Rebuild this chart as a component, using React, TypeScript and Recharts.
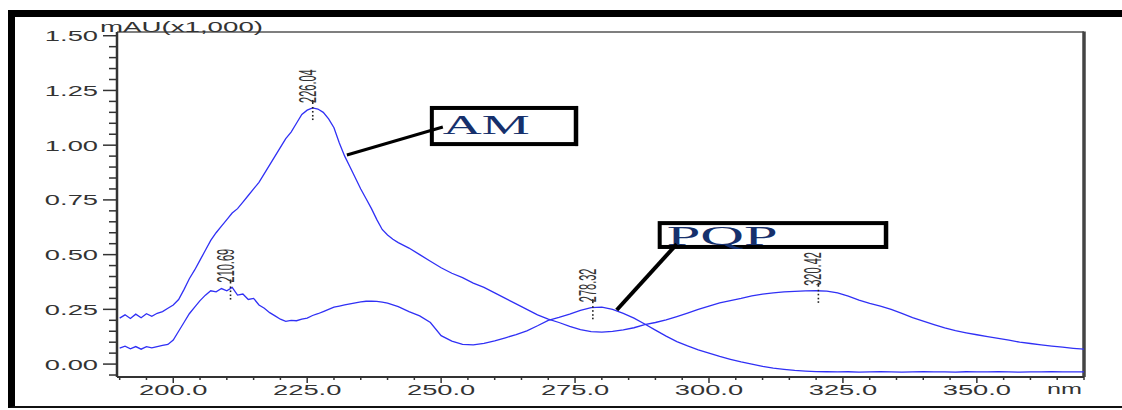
import React from 'react';
import { LineChart, Line, XAxis, YAxis, ReferenceDot, ReferenceLine, ReferenceArea, Label } from 'recharts';

// Wavelength (nm) sampling shared by both spectra
const wavelengths = [
  190, 191, 192, 193, 194, 195, 196, 197, 198, 199,
  200, 201, 202, 203, 204, 205, 206, 207, 208, 209,
  210, 211, 212, 213, 214, 215, 216, 217, 218, 219,
  220, 221, 222, 223, 224, 225, 226, 227, 228, 229,
  230, 231, 232, 233, 234, 235, 236, 237, 238, 239,
  240, 241, 242, 244, 246, 248, 250, 252, 254, 256,
  258, 260, 262, 264, 266, 268, 270, 272, 274, 276,
  278, 280, 282, 284, 286, 288, 290, 292, 294, 296,
  298, 300, 302, 304, 306, 308, 310, 312, 314, 316,
  318, 320, 322, 324, 326, 328, 330, 332, 334, 336,
  338, 340, 342, 344, 346, 348, 350, 352, 354, 356,
  358, 360, 362, 364, 366, 368, 370,
];

// AM spectrum, mAU x1,000
const amAbsorbance = [
  0.21, 0.225, 0.208, 0.228, 0.212, 0.23, 0.218, 0.232, 0.24, 0.255,
  0.27, 0.295, 0.34, 0.39, 0.43, 0.475, 0.52, 0.565, 0.6, 0.63,
  0.66, 0.69, 0.71, 0.74, 0.77, 0.8, 0.83, 0.87, 0.91, 0.95,
  0.99, 1.03, 1.06, 1.1, 1.14, 1.16, 1.17, 1.165, 1.15, 1.12,
  1.08, 1.01, 0.95, 0.9, 0.85, 0.8, 0.755, 0.71, 0.66, 0.615,
  0.59, 0.57, 0.555, 0.53, 0.5, 0.47, 0.44, 0.415, 0.395, 0.37,
  0.35, 0.325, 0.3, 0.275, 0.25, 0.225, 0.205, 0.19, 0.172, 0.157,
  0.148, 0.146, 0.149, 0.156, 0.166, 0.18, 0.19, 0.202, 0.217, 0.233,
  0.25, 0.265, 0.28, 0.29, 0.3, 0.312, 0.32, 0.325, 0.33, 0.332,
  0.334, 0.335, 0.333, 0.325, 0.31, 0.292, 0.277, 0.265, 0.25, 0.232,
  0.212, 0.196, 0.18, 0.165, 0.153, 0.143, 0.134, 0.125, 0.117, 0.109,
  0.1, 0.094, 0.088, 0.082, 0.077, 0.072, 0.068,
];

// PQP spectrum, mAU x1,000
const pqpAbsorbance = [
  0.073, 0.082, 0.07, 0.08, 0.068, 0.08, 0.074, 0.08, 0.085, 0.09,
  0.11, 0.15, 0.19, 0.23, 0.26, 0.29, 0.315, 0.335, 0.33, 0.345,
  0.335, 0.35, 0.315, 0.32, 0.295, 0.3, 0.27, 0.255, 0.235, 0.22,
  0.205, 0.195, 0.2, 0.198, 0.205, 0.21, 0.222, 0.23, 0.24, 0.25,
  0.26, 0.265, 0.27, 0.275, 0.28, 0.284, 0.287, 0.288, 0.286, 0.283,
  0.278, 0.27, 0.262, 0.24, 0.22, 0.19, 0.13, 0.105, 0.09, 0.088,
  0.095, 0.106, 0.12, 0.135, 0.152, 0.175, 0.2, 0.213, 0.228, 0.245,
  0.258, 0.26, 0.25, 0.232, 0.21, 0.183, 0.155, 0.128, 0.103, 0.083,
  0.065, 0.05, 0.035, 0.022, 0.01, 0.0, -0.01, -0.018, -0.024, -0.029,
  -0.032, -0.034, -0.035, -0.036, -0.035, -0.037, -0.036, -0.035, -0.036, -0.037,
  -0.036, -0.035, -0.036, -0.036, -0.037, -0.035, -0.036, -0.036, -0.035, -0.036,
  -0.037, -0.036, -0.036, -0.035, -0.036, -0.036, -0.036,
];

const xTicks = [
  190, 195, 200, 205, 210, 215, 220, 225, 230, 235, 240, 245, 250, 255, 260, 265, 270, 275,
  280, 285, 290, 295, 300, 305, 310, 315, 320, 325, 330, 335, 340, 345, 350, 355, 360, 365, 370,
];
const yTicks = [
  -0.05, 0, 0.05, 0.1, 0.15, 0.2, 0.25, 0.3, 0.35, 0.4, 0.45, 0.5, 0.55, 0.6, 0.65, 0.7,
  0.75, 0.8, 0.85, 0.9, 0.95, 1.0, 1.05, 1.1, 1.15, 1.2, 1.25, 1.3, 1.35, 1.4, 1.45, 1.5,
];

const peakWavelengths = [210.69, 226.04, 278.32, 320.42];
const peakHeights = [0.35, 1.17, 0.26, 0.335];

const calloutNames = ['AM', 'PQP'];

// annotation geometry (data units)
const X_DOMAIN: [number, number] = [189.5, 370];
const Y_DOMAIN: [number, number] = [-0.059, 1.517];
const calloutBoxes = [
  { x1: 248.27, x2: 275.13, y1: 1.005, y2: 1.17, dx: 11, dy: 26, len: 87, size: 28 },
  { x1: 290.8, x2: 333.0, y1: 0.535, y2: 0.644, dx: 7, dy: 22, len: 111, size: 27 },
];
const calloutLines = [
  [{ x: 250.32, y: 1.083 }, { x: 232.41, y: 0.955 }],
  [{ x: 293.98, y: 0.548 }, { x: 282.78, y: 0.247 }],
];

const SANS = "'Liberation Sans', Arial, sans-serif";
const SERIF = "'Liberation Serif', 'Times New Roman', serif";
const TXT = '#333';
const STRETCH = 1.95;

const amData = wavelengths.map((w, i) => ({ x: w, y: amAbsorbance[i] }));
const pqpData = wavelengths.map((w, i) => ({ x: w, y: pqpAbsorbance[i] }));

function YTick(props: any) {
  const { x, y, payload } = props;
  const v = payload.value as number;
  const major = Math.abs(v * 4 - Math.round(v * 4)) < 1e-6;
  return (
    <g>
      <line x1={major ? x : x + 6} x2={x + 14} y1={y} y2={y} stroke="#333" strokeWidth={1.5} />
      {major && (
        <text
          transform={`translate(${x - 5},${y + 5.5}) scale(${STRETCH},1)`}
          textAnchor="end"
          fontSize={14}
          fontFamily={SANS}
          fill={TXT}
        >
          {v.toFixed(2)}
        </text>
      )}
    </g>
  );
}

function XTick(props: any) {
  const { x, y, payload } = props;
  const v = payload.value as number;
  const major = v % 25 === 0;
  const axisY = y - 6;
  return (
    <g>
      <line x1={x} x2={x} y1={axisY} y2={axisY + (major ? 6 : 3)} stroke="#333" strokeWidth={1.5} />
      {major && (
        <text
          transform={`translate(${x},${axisY + 18}) scale(${STRETCH},1)`}
          textAnchor="middle"
          fontSize={14}
          fontFamily={SANS}
          fill={TXT}
        >
          {v.toFixed(1)}
        </text>
      )}
    </g>
  );
}

function NmLabel(props: any) {
  const vb = props.viewBox || {};
  return (
    <text
      x={vb.x + vb.width - 37}
      y={vb.y + 17}
      fontSize={14}
      fontFamily={SANS}
      fill={TXT}
      textLength={35}
      lengthAdjust="spacingAndGlyphs"
    >
      nm
    </text>
  );
}

function UnitLabel(props: any) {
  const vb = props.viewBox || {};
  return (
    <text
      x={vb.x + vb.width - 17}
      y={vb.y}
      fontSize={14}
      fontFamily={SANS}
      fill={TXT}
      textLength={163}
      lengthAdjust="spacingAndGlyphs"
    >
      mAU(x1,000)
    </text>
  );
}

function PeakMark(props: any) {
  const { cx, cy, text } = props;
  return (
    <g>
      <rect x={cx - 0.8} y={cy - 8} width={1.6} height={4} fill="#222" />
      {[-1, 3, 7, 10.5].map((d) => (
        <rect key={d} x={cx - 0.8} y={cy + d} width={1.6} height={1.6} fill="#222" />
      ))}
      <text
        transform={`translate(${cx + 3},${cy - 5}) scale(2.1,1) rotate(-90)`}
        fontSize={11}
        fontFamily={SANS}
        fill={TXT}
      >
        {text}
      </text>
    </g>
  );
}

function FrameShape(props: any) {
  const { x, y, width, height } = props;
  return (
    <g>
      <line x1={x} x2={x + width} y1={y} y2={y} stroke="#555" strokeWidth={1.5} />
      <line x1={x + width} x2={x + width} y1={y - 0.5} y2={y + height} stroke="#444" strokeWidth={3.5} />
    </g>
  );
}

function BoxShape(props: any) {
  const { x, y, width, height, name, dx, dy, len, size } = props;
  return (
    <g>
      <rect x={x} y={y} width={width} height={height} fill="none" stroke="#000" strokeWidth={4} />
      <line x1={x + width + 1} x2={x + width + 1} y1={y - 2} y2={y + height + 2} stroke="#000" strokeWidth={3} />
      <text
        x={x + dx}
        y={y + dy}
        fontSize={size}
        fontFamily={SERIF}
        fill="#16306c"
        textLength={len}
        lengthAdjust="spacingAndGlyphs"
      >
        {name}
      </text>
    </g>
  );
}

export default function App() {
  return (
    <div style={{ position: 'absolute', left: 0, top: 0, width: 1122, height: 410, background: '#fff' }}>
      <LineChart width={1122} height={410} margin={{ top: 32, right: 38, bottom: 3, left: 57 }}>
        <XAxis
          dataKey="x"
          type="number"
          domain={X_DOMAIN}
          allowDataOverflow
          ticks={xTicks}
          interval={0}
          tick={<XTick />}
          tickLine={false}
          tickSize={6}
          tickMargin={0}
          height={30}
          axisLine={{ stroke: '#333', strokeWidth: 2 }}
        >
          <Label content={<NmLabel />} />
        </XAxis>
        <YAxis
          type="number"
          domain={Y_DOMAIN}
          allowDataOverflow
          ticks={yTicks}
          interval={0}
          tick={<YTick />}
          tickLine={false}
          tickSize={14}
          tickMargin={0}
          width={60}
          axisLine={{ stroke: '#333', strokeWidth: 2.5 }}
        >
          <Label content={<UnitLabel />} />
        </YAxis>
        <ReferenceArea
          x1={X_DOMAIN[0]}
          x2={X_DOMAIN[1]}
          y1={Y_DOMAIN[0]}
          y2={Y_DOMAIN[1]}
          ifOverflow="visible"
          shape={(p: any) => <FrameShape {...p} />}
        />
        <Line data={pqpData} dataKey="y" type="linear" stroke="#3030f5" strokeWidth={1.3} dot={false} isAnimationActive={false} />
        <Line data={amData} dataKey="y" type="linear" stroke="#3030f5" strokeWidth={1.3} dot={false} isAnimationActive={false} />
        {peakWavelengths.map((w, i) => (
          <ReferenceDot
            key={w}
            x={w}
            y={peakHeights[i]}
            r={1}
            ifOverflow="visible"
            shape={(p: any) => <PeakMark cx={p.cx} cy={p.cy} text={w.toFixed(2)} />}
          />
        ))}
        {calloutBoxes.map((b, i) => (
          <ReferenceArea
            key={calloutNames[i]}
            x1={b.x1}
            x2={b.x2}
            y1={b.y1}
            y2={b.y2}
            ifOverflow="visible"
            shape={(p: any) => (
              <BoxShape {...p} name={calloutNames[i]} dx={b.dx} dy={b.dy} len={b.len} size={b.size} />
            )}
          />
        ))}
        {calloutLines.map((seg, i) => (
          <ReferenceLine
            key={'l' + i}
            segment={seg}
            ifOverflow="visible"
            stroke="#000"
            strokeWidth={i === 0 ? 3 : 4}
          />
        ))}
      </LineChart>
      <div
        style={{
          position: 'absolute',
          left: 8,
          top: 10,
          width: 1114,
          height: 398,
          borderTop: '7px solid #000',
          borderLeft: '7px solid #000',
          borderBottom: '2px solid #111',
          boxSizing: 'border-box',
          pointerEvents: 'none',
        }}
      />
    </div>
  );
}
